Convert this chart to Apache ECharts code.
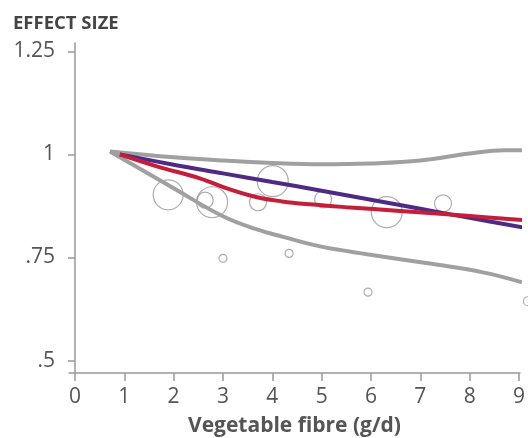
<!DOCTYPE html>
<html>
<head>
<meta charset="utf-8">
<script src="https://cdn.jsdelivr.net/npm/echarts@6/dist/echarts.min.js"></script>
<style>
  html, body { margin: 0; padding: 0; background: #fff; }
  #chart { width: 528px; height: 438px; }
</style>
</head>
<body>
<div id="chart"></div>
<script>
// tick labels
var xTicks = [0, 1, 2, 3, 4, 5, 6, 7, 8, 9]
var yTicks = [0.5, 0.75, 1, 1.25]

// upper / lower confidence band (grey)
var upperBand = [[0.71, 1.007], [2, 0.993], [3, 0.985], [4, 0.979], [5, 0.976], [6, 0.978], [7, 0.985], [8, 1.002], [8.7, 1.01], [9.15, 1.01]]
var lowerBand = [[0.71, 1.007], [2, 0.918], [3, 0.85], [3.69, 0.818], [4.22, 0.8], [4.97, 0.777], [5.92, 0.758], [7.26, 0.734], [8.27, 0.714], [9.06, 0.69]]

// linear trend (purple) and spline fit (red)
var linearFit = [[0.91, 1.0], [2, 0.975], [3, 0.954], [4, 0.933], [5, 0.912], [6, 0.89], [7, 0.868], [8, 0.846], [9.16, 0.821]]
var splineFit = [[0.91, 1.0], [1.66, 0.971], [2.53, 0.942], [3.14, 0.915], [3.69, 0.896], [4.2, 0.886], [4.76, 0.879], [5.5, 0.872], [6.59, 0.863], [7.94, 0.851], [9.08, 0.841]]

// study estimates: dose, effect size, weight (bubble diameter)
var studyX = [1.89, 2.78, 2.64, 3.71, 4.01, 3.0, 4.34, 5.03, 6.32, 7.46, 5.94, 9.18]
var studyY = [0.902, 0.884, 0.889, 0.884, 0.935, 0.748, 0.76, 0.891, 0.86, 0.881, 0.666, 0.644]
var studyW = [30, 31, 16, 17, 31, 8, 8, 17, 31, 17, 8, 9]

var textColor = '#555'
var axisColor = '#999'

var chart = echarts.init(document.getElementById('chart'))

function lineSeries(data, color) {
  return {
    type: 'line',
    data: data,
    smooth: 0.4,
    symbol: 'none',
    clip: false,
    lineStyle: { color: color, width: 4 },
    animation: false
  }
}

chart.setOption({
  backgroundColor: '#fff',
  textStyle: { fontFamily: 'Open Sans' },
  title: {
    text: 'EFFECT SIZE',
    left: 8,
    top: 9,
    textStyle: { fontSize: 18.5, fontWeight: 'bold', color: '#444', fontFamily: 'Open Sans' }
  },
  grid: { left: 69, right: 8, top: 43, bottom: 65, outerBoundsMode: 'none', containLabel: false },
  xAxis: {
    type: 'value',
    min: -0.12,
    max: 9.02,
    name: 'Vegetable fibre (g/d)',
    nameLocation: 'middle',
    nameGap: 43,
    nameMoveOverlap: false,
    nameTextStyle: { fontSize: 21, fontWeight: 'bold', color: '#555' },
    splitLine: { show: false },
    axisLine: { show: true, lineStyle: { color: axisColor, width: 1.5 } },
    axisTick: { show: true, customValues: xTicks, length: 8, lineStyle: { color: axisColor, width: 1.5 } },
    axisLabel: { customValues: xTicks, fontSize: 21, color: textColor, margin: 14 }
  },
  yAxis: {
    type: 'value',
    min: 0.47,
    max: 1.27,
    splitLine: { show: false },
    axisLine: { show: true, lineStyle: { color: axisColor, width: 1.5 } },
    axisTick: { show: true, customValues: yTicks, length: 7, lineStyle: { color: axisColor, width: 1.5 } },
    axisLabel: {
      customValues: yTicks,
      fontSize: 21,
      color: textColor,
      margin: 14,
      formatter: function (v) {
        return String(v).replace(/^0\./, '.')
      }
    }
  },
  series: [
    {
      type: 'scatter',
      data: studyX.map(function (x, i) { return [x, studyY[i], studyW[i]] }),
      symbolSize: function (d) { return d[2] },
      clip: false,
      itemStyle: { color: 'rgba(255,255,255,0)', borderColor: '#999', borderWidth: 1.2 },
      animation: false
    },
    lineSeries(upperBand, '#a0a0a0'),
    lineSeries(lowerBand, '#a0a0a0'),
    lineSeries(linearFit, '#4e2a84'),
    lineSeries(splineFit, '#c41e3a')
  ]
})
</script>
</body>
</html>
